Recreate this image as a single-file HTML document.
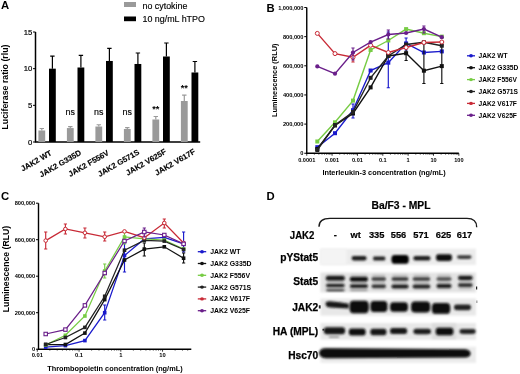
<!DOCTYPE html>
<html><head><meta charset="utf-8"><style>
html,body{margin:0;padding:0;background:#fff;}
svg{display:block;font-family:"Liberation Sans", sans-serif;filter:blur(0.3px);}
</style></head><body>
<svg width="520" height="374" viewBox="0 0 520 374">
<rect width="520" height="374" fill="#fff"/>
<text x="0.9" y="8.9" font-size="11.3" font-weight="700" text-anchor="start" fill="#000" >A</text>
<rect x="124" y="2" width="12" height="5" fill="#9a9a9a"/>
<rect x="124" y="16.5" width="12" height="4.7" fill="#000"/>
<text x="142.5" y="8.6" font-size="8.9" font-weight="400" text-anchor="start" fill="#000" stroke="#000" stroke-width="0.15">no cytokine</text>
<text x="142.5" y="21.8" font-size="8.9" font-weight="400" text-anchor="start" fill="#000" stroke="#000" stroke-width="0.15">10 ng/mL hTPO</text>
<path d="M35.5 32.004999999999995 V142.0 H200.2" stroke="#000" stroke-width="1.5" fill="none"/>
<path d="M33 142.0 H35.5" stroke="#000" stroke-width="1"/>
<text x="32.2" y="144.7" font-size="7.7" font-weight="400" text-anchor="end" fill="#000" stroke="#000" stroke-width="0.2">0</text>
<path d="M33 105.33500000000001 H35.5" stroke="#000" stroke-width="1"/>
<text x="32.2" y="108.03500000000001" font-size="7.7" font-weight="400" text-anchor="end" fill="#000" stroke="#000" stroke-width="0.2">5</text>
<path d="M33 68.67 H35.5" stroke="#000" stroke-width="1"/>
<text x="32.2" y="71.37" font-size="7.7" font-weight="400" text-anchor="end" fill="#000" stroke="#000" stroke-width="0.2">10</text>
<path d="M33 32.004999999999995 H35.5" stroke="#000" stroke-width="1"/>
<text x="32.2" y="34.705" font-size="7.7" font-weight="400" text-anchor="end" fill="#000" stroke="#000" stroke-width="0.2">15</text>
<text transform="translate(7.9,87.0) rotate(-90)" font-size="8.8" font-weight="700" text-anchor="middle">Luciferase ratio (rlu)</text>
<path d="M41.8 130.48719 V128.50728 M39.6 128.50728 H44.0" stroke="#9a9a9a" stroke-width="1.2"/>
<rect x="38.4" y="130.48719" width="6.8" height="11.512810000000002" fill="#9a9a9a"/>
<path d="M52.4 68.67 V56.203900000000004 M50.2 56.203900000000004 H54.6" stroke="#000" stroke-width="1.2"/>
<rect x="49.0" y="68.67" width="6.8" height="73.33" fill="#000"/>
<text transform="translate(52.39999999999999,154.5) rotate(-30)" font-size="7.8" font-weight="700" text-anchor="end" stroke="#000" stroke-width="0.15">JAK2 WT</text>
<path d="M70.30000000000001 128.0673 V126.6007 M68.10000000000001 126.6007 H72.5" stroke="#9a9a9a" stroke-width="1.2"/>
<rect x="66.9" y="128.0673" width="6.8" height="13.932700000000011" fill="#9a9a9a"/>
<path d="M80.9 67.49672 V55.47059999999999 M78.7 55.47059999999999 H83.1" stroke="#000" stroke-width="1.2"/>
<rect x="77.5" y="67.49672" width="6.8" height="74.50328" fill="#000"/>
<text transform="translate(81.89999999999999,154.2) rotate(-30)" font-size="7.8" font-weight="700" text-anchor="end" stroke="#000" stroke-width="0.15">JAK2 G335D</text>
<path d="M98.80000000000001 126.52737 V124.76745 M96.60000000000001 124.76745 H101.0" stroke="#9a9a9a" stroke-width="1.2"/>
<rect x="95.4" y="126.52737" width="6.8" height="15.472629999999995" fill="#9a9a9a"/>
<path d="M109.4 60.970349999999996 V48.43092 M107.2 48.43092 H111.6" stroke="#000" stroke-width="1.2"/>
<rect x="106.0" y="60.970349999999996" width="6.8" height="81.02965" fill="#000"/>
<text transform="translate(109.39999999999999,154.5) rotate(-30)" font-size="7.8" font-weight="700" text-anchor="end" stroke="#000" stroke-width="0.15">JAK2 F556V</text>
<path d="M127.30000000000001 129.02059 V127.70065 M125.10000000000001 127.70065 H129.5" stroke="#9a9a9a" stroke-width="1.2"/>
<rect x="123.9" y="129.02059" width="6.8" height="12.979410000000001" fill="#9a9a9a"/>
<path d="M137.9 63.976879999999994 V52.97738 M135.7 52.97738 H140.1" stroke="#000" stroke-width="1.2"/>
<rect x="134.5" y="63.976879999999994" width="6.8" height="78.02312" fill="#000"/>
<text transform="translate(139.90000000000003,153.7) rotate(-30)" font-size="7.8" font-weight="700" text-anchor="end" stroke="#000" stroke-width="0.15">JAK2 G571S</text>
<path d="M155.8 119.48769 V116.48116 M153.6 116.48116 H158.0" stroke="#9a9a9a" stroke-width="1.2"/>
<rect x="152.4" y="119.48769" width="6.8" height="22.51231" fill="#9a9a9a"/>
<path d="M166.4 56.49722 V43.00449999999999 M164.2 43.00449999999999 H168.6" stroke="#000" stroke-width="1.2"/>
<rect x="163.0" y="56.49722" width="6.8" height="85.50278" fill="#000"/>
<text transform="translate(166.90000000000003,153.2) rotate(-30)" font-size="7.8" font-weight="700" text-anchor="end" stroke="#000" stroke-width="0.15">JAK2 V625F</text>
<path d="M184.3 101.00853000000001 V95.0688 M182.1 95.0688 H186.5" stroke="#9a9a9a" stroke-width="1.2"/>
<rect x="180.9" y="101.00853000000001" width="6.8" height="40.99146999999999" fill="#9a9a9a"/>
<path d="M194.9 72.48316 V61.48366 M192.7 61.48366 H197.1" stroke="#000" stroke-width="1.2"/>
<rect x="191.5" y="72.48316" width="6.8" height="69.51684" fill="#000"/>
<text transform="translate(195.90000000000003,153.2) rotate(-30)" font-size="7.8" font-weight="700" text-anchor="end" stroke="#000" stroke-width="0.15">JAK2 V617F</text>
<text x="70.30000000000001" y="114.5" font-size="8.9" font-weight="400" text-anchor="middle" fill="#000" stroke="#000" stroke-width="0.15">ns</text>
<text x="98.80000000000001" y="114.5" font-size="8.9" font-weight="400" text-anchor="middle" fill="#000" stroke="#000" stroke-width="0.15">ns</text>
<text x="127.30000000000001" y="114.5" font-size="8.9" font-weight="400" text-anchor="middle" fill="#000" stroke="#000" stroke-width="0.15">ns</text>
<text x="155.8" y="111.5" font-size="9.2" font-weight="700" text-anchor="middle" fill="#000" >**</text>
<text x="184.3" y="91.4" font-size="9.2" font-weight="700" text-anchor="middle" fill="#000" >**</text>
<text x="266.4" y="11.6" font-size="11.3" font-weight="700" text-anchor="start" fill="#000" >B</text>
<path d="M306.75 7.5 V153.25 H458.85" stroke="#000" stroke-width="1.4" fill="none"/>
<path d="M304.25 153.25 H306.75" stroke="#000" stroke-width="1"/>
<text x="303.45" y="155.25" font-size="5.7" font-weight="700" text-anchor="end" fill="#000" >0</text>
<path d="M304.25 124.1 H306.75" stroke="#000" stroke-width="1"/>
<text x="303.45" y="126.1" font-size="5.7" font-weight="700" text-anchor="end" fill="#000" >200,000</text>
<path d="M304.25 94.95 H306.75" stroke="#000" stroke-width="1"/>
<text x="303.45" y="96.95" font-size="5.7" font-weight="700" text-anchor="end" fill="#000" >400,000</text>
<path d="M304.25 65.80000000000001 H306.75" stroke="#000" stroke-width="1"/>
<text x="303.45" y="67.80000000000001" font-size="5.7" font-weight="700" text-anchor="end" fill="#000" >600,000</text>
<path d="M304.25 36.650000000000006 H306.75" stroke="#000" stroke-width="1"/>
<text x="303.45" y="38.650000000000006" font-size="5.7" font-weight="700" text-anchor="end" fill="#000" >800,000</text>
<path d="M304.25 7.5 H306.75" stroke="#000" stroke-width="1"/>
<text x="303.45" y="9.5" font-size="5.7" font-weight="700" text-anchor="end" fill="#000" >1,000,000</text>
<path d="M306.75 153.25 V155.75" stroke="#000" stroke-width="0.8"/>
<path d="M314.38 153.25 V154.55" stroke="#000" stroke-width="0.8"/>
<path d="M318.85 153.25 V154.55" stroke="#000" stroke-width="0.8"/>
<path d="M322.01 153.25 V154.55" stroke="#000" stroke-width="0.8"/>
<path d="M324.47 153.25 V154.55" stroke="#000" stroke-width="0.8"/>
<path d="M326.48 153.25 V154.55" stroke="#000" stroke-width="0.8"/>
<path d="M328.17 153.25 V154.55" stroke="#000" stroke-width="0.8"/>
<path d="M329.64 153.25 V154.55" stroke="#000" stroke-width="0.8"/>
<path d="M330.94 153.25 V154.55" stroke="#000" stroke-width="0.8"/>
<path d="M332.10 153.25 V155.75" stroke="#000" stroke-width="0.8"/>
<path d="M339.73 153.25 V154.55" stroke="#000" stroke-width="0.8"/>
<path d="M344.20 153.25 V154.55" stroke="#000" stroke-width="0.8"/>
<path d="M347.36 153.25 V154.55" stroke="#000" stroke-width="0.8"/>
<path d="M349.82 153.25 V154.55" stroke="#000" stroke-width="0.8"/>
<path d="M351.83 153.25 V154.55" stroke="#000" stroke-width="0.8"/>
<path d="M353.52 153.25 V154.55" stroke="#000" stroke-width="0.8"/>
<path d="M354.99 153.25 V154.55" stroke="#000" stroke-width="0.8"/>
<path d="M356.29 153.25 V154.55" stroke="#000" stroke-width="0.8"/>
<path d="M357.45 153.25 V155.75" stroke="#000" stroke-width="0.8"/>
<path d="M365.08 153.25 V154.55" stroke="#000" stroke-width="0.8"/>
<path d="M369.55 153.25 V154.55" stroke="#000" stroke-width="0.8"/>
<path d="M372.71 153.25 V154.55" stroke="#000" stroke-width="0.8"/>
<path d="M375.17 153.25 V154.55" stroke="#000" stroke-width="0.8"/>
<path d="M377.18 153.25 V154.55" stroke="#000" stroke-width="0.8"/>
<path d="M378.87 153.25 V154.55" stroke="#000" stroke-width="0.8"/>
<path d="M380.34 153.25 V154.55" stroke="#000" stroke-width="0.8"/>
<path d="M381.64 153.25 V154.55" stroke="#000" stroke-width="0.8"/>
<path d="M382.80 153.25 V155.75" stroke="#000" stroke-width="0.8"/>
<path d="M390.43 153.25 V154.55" stroke="#000" stroke-width="0.8"/>
<path d="M394.90 153.25 V154.55" stroke="#000" stroke-width="0.8"/>
<path d="M398.06 153.25 V154.55" stroke="#000" stroke-width="0.8"/>
<path d="M400.52 153.25 V154.55" stroke="#000" stroke-width="0.8"/>
<path d="M402.53 153.25 V154.55" stroke="#000" stroke-width="0.8"/>
<path d="M404.22 153.25 V154.55" stroke="#000" stroke-width="0.8"/>
<path d="M405.69 153.25 V154.55" stroke="#000" stroke-width="0.8"/>
<path d="M406.99 153.25 V154.55" stroke="#000" stroke-width="0.8"/>
<path d="M408.15 153.25 V155.75" stroke="#000" stroke-width="0.8"/>
<path d="M415.78 153.25 V154.55" stroke="#000" stroke-width="0.8"/>
<path d="M420.25 153.25 V154.55" stroke="#000" stroke-width="0.8"/>
<path d="M423.41 153.25 V154.55" stroke="#000" stroke-width="0.8"/>
<path d="M425.87 153.25 V154.55" stroke="#000" stroke-width="0.8"/>
<path d="M427.88 153.25 V154.55" stroke="#000" stroke-width="0.8"/>
<path d="M429.57 153.25 V154.55" stroke="#000" stroke-width="0.8"/>
<path d="M431.04 153.25 V154.55" stroke="#000" stroke-width="0.8"/>
<path d="M432.34 153.25 V154.55" stroke="#000" stroke-width="0.8"/>
<path d="M433.50 153.25 V155.75" stroke="#000" stroke-width="0.8"/>
<path d="M441.13 153.25 V154.55" stroke="#000" stroke-width="0.8"/>
<path d="M445.60 153.25 V154.55" stroke="#000" stroke-width="0.8"/>
<path d="M448.76 153.25 V154.55" stroke="#000" stroke-width="0.8"/>
<path d="M451.22 153.25 V154.55" stroke="#000" stroke-width="0.8"/>
<path d="M453.23 153.25 V154.55" stroke="#000" stroke-width="0.8"/>
<path d="M454.92 153.25 V154.55" stroke="#000" stroke-width="0.8"/>
<path d="M456.39 153.25 V154.55" stroke="#000" stroke-width="0.8"/>
<path d="M457.69 153.25 V154.55" stroke="#000" stroke-width="0.8"/>
<path d="M458.85 153.25 V155.75" stroke="#000" stroke-width="0.8"/>
<text x="306.75" y="161.9" font-size="5.6" font-weight="700" text-anchor="middle" fill="#000" >0.0001</text>
<text x="332.1" y="161.9" font-size="5.6" font-weight="700" text-anchor="middle" fill="#000" >0.001</text>
<text x="357.45" y="161.9" font-size="5.6" font-weight="700" text-anchor="middle" fill="#000" >0.01</text>
<text x="382.8" y="161.9" font-size="5.6" font-weight="700" text-anchor="middle" fill="#000" >0.1</text>
<text x="408.15" y="161.9" font-size="5.6" font-weight="700" text-anchor="middle" fill="#000" >1</text>
<text x="433.5" y="161.9" font-size="5.6" font-weight="700" text-anchor="middle" fill="#000" >10</text>
<text x="458.85" y="161.9" font-size="5.6" font-weight="700" text-anchor="middle" fill="#000" >100</text>
<text x="384" y="175.3" font-size="7.35" font-weight="700" text-anchor="middle" fill="#000" >Interleukin-3 concentration (ng/mL)</text>
<text transform="translate(276.5,80.3) rotate(-90)" font-size="7.4" font-weight="700" text-anchor="middle">Luminescence (RLU)</text>
<path d="M388.3 32 V87.7 M386.7 32 H389.90000000000003 M386.7 87.7 H389.90000000000003" stroke="#1a1acc" stroke-width="1.15"/>
<path d="M353 104 V118 M351.4 104 H354.6 M351.4 118 H354.6" stroke="#1a1acc" stroke-width="1.15"/>
<path d="M406.1 38 V50 M404.5 38 H407.70000000000005 M404.5 50 H407.70000000000005" stroke="#1a1acc" stroke-width="1.15"/>
<polyline points="317.3,147.2 335,133.2 353,110.2 370.6,70.5 388.3,62.7 406.1,43.4 423.9,52.5 441.8,51.4" fill="none" stroke="#1a1acc" stroke-width="1.4"/>
<rect x="315.3" y="145.2" width="4.0" height="4.0" fill="#1a1acc"/>
<rect x="333.0" y="131.2" width="4.0" height="4.0" fill="#1a1acc"/>
<rect x="351.0" y="108.2" width="4.0" height="4.0" fill="#1a1acc"/>
<rect x="368.6" y="68.5" width="4.0" height="4.0" fill="#1a1acc"/>
<rect x="386.3" y="60.7" width="4.0" height="4.0" fill="#1a1acc"/>
<rect x="404.1" y="41.4" width="4.0" height="4.0" fill="#1a1acc"/>
<rect x="421.9" y="50.5" width="4.0" height="4.0" fill="#1a1acc"/>
<rect x="439.8" y="49.4" width="4.0" height="4.0" fill="#1a1acc"/>
<path d="M423.9 42 V83.5 M422.29999999999995 42 H425.5 M422.29999999999995 83.5 H425.5" stroke="#111111" stroke-width="1.15"/>
<path d="M441.8 45 V83.5 M440.2 45 H443.40000000000003 M440.2 83.5 H443.40000000000003" stroke="#111111" stroke-width="1.15"/>
<path d="M406.1 46 V60.5 M404.5 46 H407.70000000000005 M404.5 60.5 H407.70000000000005" stroke="#111111" stroke-width="1.15"/>
<polyline points="317.3,149 335,125.5 353,113.5 370.6,87.4 388.3,56 406.1,53.2 423.9,70.7 441.8,66.1" fill="none" stroke="#111111" stroke-width="1.4"/>
<rect x="315.3" y="147.0" width="4.0" height="4.0" fill="#111111"/>
<rect x="333.0" y="123.5" width="4.0" height="4.0" fill="#111111"/>
<rect x="351.0" y="111.5" width="4.0" height="4.0" fill="#111111"/>
<rect x="368.6" y="85.4" width="4.0" height="4.0" fill="#111111"/>
<rect x="386.3" y="54.0" width="4.0" height="4.0" fill="#111111"/>
<rect x="404.1" y="51.2" width="4.0" height="4.0" fill="#111111"/>
<rect x="421.9" y="68.7" width="4.0" height="4.0" fill="#111111"/>
<rect x="439.8" y="64.1" width="4.0" height="4.0" fill="#111111"/>
<polyline points="317.3,141.5 335,122.3 353,100.6 370.6,50 388.3,40.5 406.1,29.1 423.9,33.2 441.8,36.6" fill="none" stroke="#77cc44" stroke-width="1.4"/>
<rect x="315.3" y="139.5" width="4.0" height="4.0" fill="#77cc44"/>
<rect x="333.0" y="120.3" width="4.0" height="4.0" fill="#77cc44"/>
<rect x="351.0" y="98.6" width="4.0" height="4.0" fill="#77cc44"/>
<rect x="368.6" y="48.0" width="4.0" height="4.0" fill="#77cc44"/>
<rect x="386.3" y="38.5" width="4.0" height="4.0" fill="#77cc44"/>
<rect x="404.1" y="27.1" width="4.0" height="4.0" fill="#77cc44"/>
<rect x="421.9" y="31.200000000000003" width="4.0" height="4.0" fill="#77cc44"/>
<rect x="439.8" y="34.6" width="4.0" height="4.0" fill="#77cc44"/>
<polyline points="317.3,150 335,125 353,112 370.6,77.8 388.3,56 406.1,44.5 423.9,42.3 441.8,45.7" fill="none" stroke="#222222" stroke-width="1.4"/>
<rect x="315.3" y="148.0" width="4.0" height="4.0" fill="#222222"/>
<rect x="333.0" y="123.0" width="4.0" height="4.0" fill="#222222"/>
<rect x="351.0" y="110.0" width="4.0" height="4.0" fill="#222222"/>
<rect x="368.6" y="75.8" width="4.0" height="4.0" fill="#222222"/>
<rect x="386.3" y="54.0" width="4.0" height="4.0" fill="#222222"/>
<rect x="404.1" y="42.5" width="4.0" height="4.0" fill="#222222"/>
<rect x="421.9" y="40.3" width="4.0" height="4.0" fill="#222222"/>
<rect x="439.8" y="43.7" width="4.0" height="4.0" fill="#222222"/>
<path d="M353 52 V62 M351.4 52 H354.6 M351.4 62 H354.6" stroke="#c82a36" stroke-width="1.15"/>
<polyline points="317.3,33.4 335,53.6 353,57.3 370.6,45.3 388.3,52.5 406.1,47.5 423.9,42.5 441.8,42" fill="none" stroke="#c82a36" stroke-width="1.4"/>
<circle cx="317.3" cy="33.4" r="2.0" fill="#fff" stroke="#c82a36" stroke-width="1.0"/>
<circle cx="335" cy="53.6" r="2.0" fill="#fff" stroke="#c82a36" stroke-width="1.0"/>
<circle cx="353" cy="57.3" r="2.0" fill="#fff" stroke="#c82a36" stroke-width="1.0"/>
<circle cx="370.6" cy="45.3" r="2.0" fill="#fff" stroke="#c82a36" stroke-width="1.0"/>
<circle cx="388.3" cy="52.5" r="2.0" fill="#fff" stroke="#c82a36" stroke-width="1.0"/>
<circle cx="406.1" cy="47.5" r="2.0" fill="#fff" stroke="#c82a36" stroke-width="1.0"/>
<circle cx="423.9" cy="42.5" r="2.0" fill="#fff" stroke="#c82a36" stroke-width="1.0"/>
<circle cx="441.8" cy="42" r="2.0" fill="#fff" stroke="#c82a36" stroke-width="1.0"/>
<path d="M353 48 V60 M351.4 48 H354.6 M351.4 60 H354.6" stroke="#6a1f8a" stroke-width="1.15"/>
<path d="M388.3 30 V39 M386.7 30 H389.90000000000003 M386.7 39 H389.90000000000003" stroke="#6a1f8a" stroke-width="1.15"/>
<path d="M423.9 26 V33 M422.29999999999995 26 H425.5 M422.29999999999995 33 H425.5" stroke="#6a1f8a" stroke-width="1.15"/>
<polyline points="317.3,66.4 335,73.7 353,52.5 370.6,42.1 388.3,34.5 406.1,33 423.9,29.1 441.8,37.2" fill="none" stroke="#6a1f8a" stroke-width="1.4"/>
<circle cx="317.3" cy="66.4" r="2.1" fill="#6a1f8a"/>
<circle cx="335" cy="73.7" r="2.1" fill="#6a1f8a"/>
<circle cx="353" cy="52.5" r="2.1" fill="#6a1f8a"/>
<circle cx="370.6" cy="42.1" r="2.1" fill="#6a1f8a"/>
<circle cx="388.3" cy="34.5" r="2.1" fill="#6a1f8a"/>
<circle cx="406.1" cy="33" r="2.1" fill="#6a1f8a"/>
<circle cx="423.9" cy="29.1" r="2.1" fill="#6a1f8a"/>
<circle cx="441.8" cy="37.2" r="2.1" fill="#6a1f8a"/>
<path d="M467 55.8 H475" stroke="#1a1acc" stroke-width="1.3"/>
<ellipse cx="471" cy="55.8" rx="1.9" ry="1.7" fill="#1a1acc"/>
<text x="478.5" y="58.199999999999996" font-size="6.65" font-weight="700" text-anchor="start" fill="#000" >JAK2 WT</text>
<path d="M467 67.7 H475" stroke="#111" stroke-width="1.3"/>
<ellipse cx="471" cy="67.7" rx="1.9" ry="1.7" fill="#111"/>
<text x="478.5" y="70.10000000000001" font-size="6.65" font-weight="700" text-anchor="start" fill="#000" >JAK2 G335D</text>
<path d="M467 79.6 H475" stroke="#77cc44" stroke-width="1.3"/>
<ellipse cx="471" cy="79.6" rx="1.9" ry="1.7" fill="#77cc44"/>
<text x="478.5" y="82.0" font-size="6.65" font-weight="700" text-anchor="start" fill="#000" >JAK2 F556V</text>
<path d="M467 91.5 H475" stroke="#222" stroke-width="1.3"/>
<ellipse cx="471" cy="91.5" rx="1.9" ry="1.7" fill="#222"/>
<text x="478.5" y="93.9" font-size="6.65" font-weight="700" text-anchor="start" fill="#000" >JAK2 G571S</text>
<path d="M467 103.4 H475" stroke="#c82a36" stroke-width="1.3"/>
<ellipse cx="471" cy="103.4" rx="1.9" ry="1.7" fill="#c82a36"/>
<text x="478.5" y="105.80000000000001" font-size="6.65" font-weight="700" text-anchor="start" fill="#000" >JAK2 V617F</text>
<path d="M467 115.3 H475" stroke="#6a1f8a" stroke-width="1.3"/>
<ellipse cx="471" cy="115.3" rx="1.9" ry="1.7" fill="#6a1f8a"/>
<text x="478.5" y="117.7" font-size="6.65" font-weight="700" text-anchor="start" fill="#000" >JAK2 V625F</text>
<text x="1.0" y="199.6" font-size="11.3" font-weight="700" text-anchor="start" fill="#000" >C</text>
<path d="M38.5 203.2 V349.2 H191.3" stroke="#000" stroke-width="1.4" fill="none"/>
<path d="M36 349.2 H38.5" stroke="#000" stroke-width="1"/>
<text x="35.2" y="351.2" font-size="5.7" font-weight="700" text-anchor="end" fill="#000" >0</text>
<path d="M36 312.7 H38.5" stroke="#000" stroke-width="1"/>
<text x="35.2" y="314.7" font-size="5.7" font-weight="700" text-anchor="end" fill="#000" >200,000</text>
<path d="M36 276.2 H38.5" stroke="#000" stroke-width="1"/>
<text x="35.2" y="278.2" font-size="5.7" font-weight="700" text-anchor="end" fill="#000" >400,000</text>
<path d="M36 239.7 H38.5" stroke="#000" stroke-width="1"/>
<text x="35.2" y="241.7" font-size="5.7" font-weight="700" text-anchor="end" fill="#000" >600,000</text>
<path d="M36 203.2 H38.5" stroke="#000" stroke-width="1"/>
<text x="35.2" y="205.2" font-size="5.7" font-weight="700" text-anchor="end" fill="#000" >800,000</text>
<path d="M37.30 349.2 V351.7" stroke="#000" stroke-width="0.8"/>
<path d="M49.87 349.2 V350.5" stroke="#000" stroke-width="0.8"/>
<path d="M57.22 349.2 V350.5" stroke="#000" stroke-width="0.8"/>
<path d="M62.44 349.2 V350.5" stroke="#000" stroke-width="0.8"/>
<path d="M66.48 349.2 V350.5" stroke="#000" stroke-width="0.8"/>
<path d="M69.79 349.2 V350.5" stroke="#000" stroke-width="0.8"/>
<path d="M72.58 349.2 V350.5" stroke="#000" stroke-width="0.8"/>
<path d="M75.00 349.2 V350.5" stroke="#000" stroke-width="0.8"/>
<path d="M77.14 349.2 V350.5" stroke="#000" stroke-width="0.8"/>
<path d="M79.05 349.2 V351.7" stroke="#000" stroke-width="0.8"/>
<path d="M91.62 349.2 V350.5" stroke="#000" stroke-width="0.8"/>
<path d="M98.97 349.2 V350.5" stroke="#000" stroke-width="0.8"/>
<path d="M104.19 349.2 V350.5" stroke="#000" stroke-width="0.8"/>
<path d="M108.23 349.2 V350.5" stroke="#000" stroke-width="0.8"/>
<path d="M111.54 349.2 V350.5" stroke="#000" stroke-width="0.8"/>
<path d="M114.33 349.2 V350.5" stroke="#000" stroke-width="0.8"/>
<path d="M116.75 349.2 V350.5" stroke="#000" stroke-width="0.8"/>
<path d="M118.89 349.2 V350.5" stroke="#000" stroke-width="0.8"/>
<path d="M120.80 349.2 V351.7" stroke="#000" stroke-width="0.8"/>
<path d="M133.37 349.2 V350.5" stroke="#000" stroke-width="0.8"/>
<path d="M140.72 349.2 V350.5" stroke="#000" stroke-width="0.8"/>
<path d="M145.94 349.2 V350.5" stroke="#000" stroke-width="0.8"/>
<path d="M149.98 349.2 V350.5" stroke="#000" stroke-width="0.8"/>
<path d="M153.29 349.2 V350.5" stroke="#000" stroke-width="0.8"/>
<path d="M156.08 349.2 V350.5" stroke="#000" stroke-width="0.8"/>
<path d="M158.50 349.2 V350.5" stroke="#000" stroke-width="0.8"/>
<path d="M160.64 349.2 V350.5" stroke="#000" stroke-width="0.8"/>
<path d="M162.55 349.2 V351.7" stroke="#000" stroke-width="0.8"/>
<path d="M175.12 349.2 V350.5" stroke="#000" stroke-width="0.8"/>
<path d="M182.47 349.2 V350.5" stroke="#000" stroke-width="0.8"/>
<path d="M187.69 349.2 V350.5" stroke="#000" stroke-width="0.8"/>
<text x="37.3" y="357.4" font-size="5.8" font-weight="700" text-anchor="middle" fill="#000" >0.01</text>
<text x="79.05" y="357.4" font-size="5.8" font-weight="700" text-anchor="middle" fill="#000" >0.1</text>
<text x="120.8" y="357.4" font-size="5.8" font-weight="700" text-anchor="middle" fill="#000" >1</text>
<text x="162.55" y="357.4" font-size="5.8" font-weight="700" text-anchor="middle" fill="#000" >10</text>
<text x="114.9" y="371.3" font-size="7.35" font-weight="700" text-anchor="middle" fill="#000" >Thrombopoietin concentration (ng/mL)</text>
<text transform="translate(8.6,269) rotate(-90)" font-size="8.7" font-weight="700" text-anchor="middle">Luminescence (RLU)</text>
<path d="M104.7 305 V320 M103.10000000000001 305 H106.3 M103.10000000000001 320 H106.3" stroke="#1a1acc" stroke-width="1.15"/>
<path d="M124.5 243 V272 M122.9 243 H126.1 M122.9 272 H126.1" stroke="#1a1acc" stroke-width="1.15"/>
<path d="M183.6 232 V252 M182.0 232 H185.2 M182.0 252 H185.2" stroke="#1a1acc" stroke-width="1.15"/>
<polyline points="45.7,347.1 65.4,345.6 84.9,340.6 104.7,312.7 124.5,255.5 144.3,238.9 164.3,237.3 183.6,243.9" fill="none" stroke="#1a1acc" stroke-width="1.25"/>
<rect x="43.900000000000006" y="345.3" width="3.6" height="3.6" fill="#1a1acc"/>
<rect x="63.60000000000001" y="343.8" width="3.6" height="3.6" fill="#1a1acc"/>
<rect x="83.10000000000001" y="338.8" width="3.6" height="3.6" fill="#1a1acc"/>
<rect x="102.9" y="310.9" width="3.6" height="3.6" fill="#1a1acc"/>
<rect x="122.7" y="253.7" width="3.6" height="3.6" fill="#1a1acc"/>
<rect x="142.5" y="237.1" width="3.6" height="3.6" fill="#1a1acc"/>
<rect x="162.5" y="235.5" width="3.6" height="3.6" fill="#1a1acc"/>
<rect x="181.79999999999998" y="242.1" width="3.6" height="3.6" fill="#1a1acc"/>
<path d="M144.3 243 V256 M142.70000000000002 243 H145.9 M142.70000000000002 256 H145.9" stroke="#111111" stroke-width="1.15"/>
<path d="M183.6 253 V263 M182.0 253 H185.2 M182.0 263 H185.2" stroke="#111111" stroke-width="1.15"/>
<polyline points="45.7,344.5 65.4,344.5 84.9,333.1 104.7,299.6 124.5,260 144.3,249.1 164.3,246.8 183.6,258.2" fill="none" stroke="#111111" stroke-width="1.25"/>
<rect x="43.900000000000006" y="342.7" width="3.6" height="3.6" fill="#111111"/>
<rect x="63.60000000000001" y="342.7" width="3.6" height="3.6" fill="#111111"/>
<rect x="83.10000000000001" y="331.3" width="3.6" height="3.6" fill="#111111"/>
<rect x="102.9" y="297.8" width="3.6" height="3.6" fill="#111111"/>
<rect x="122.7" y="258.2" width="3.6" height="3.6" fill="#111111"/>
<rect x="142.5" y="247.29999999999998" width="3.6" height="3.6" fill="#111111"/>
<rect x="162.5" y="245.0" width="3.6" height="3.6" fill="#111111"/>
<rect x="181.79999999999998" y="256.4" width="3.6" height="3.6" fill="#111111"/>
<path d="M104.7 264 V278 M103.10000000000001 264 H106.3 M103.10000000000001 278 H106.3" stroke="#77cc44" stroke-width="1.15"/>
<path d="M124.5 232 V244 M122.9 232 H126.1 M122.9 244 H126.1" stroke="#77cc44" stroke-width="1.15"/>
<polyline points="45.7,345 65.4,335.3 84.9,316 104.7,271 124.5,237 144.3,238.9 164.3,240 183.6,249" fill="none" stroke="#77cc44" stroke-width="1.25"/>
<rect x="43.900000000000006" y="343.2" width="3.6" height="3.6" fill="#77cc44"/>
<rect x="63.60000000000001" y="333.5" width="3.6" height="3.6" fill="#77cc44"/>
<rect x="83.10000000000001" y="314.2" width="3.6" height="3.6" fill="#77cc44"/>
<rect x="102.9" y="269.2" width="3.6" height="3.6" fill="#77cc44"/>
<rect x="122.7" y="235.2" width="3.6" height="3.6" fill="#77cc44"/>
<rect x="142.5" y="237.1" width="3.6" height="3.6" fill="#77cc44"/>
<rect x="162.5" y="238.2" width="3.6" height="3.6" fill="#77cc44"/>
<rect x="181.79999999999998" y="247.2" width="3.6" height="3.6" fill="#77cc44"/>
<polyline points="45.7,344.5 65.4,337.5 84.9,327.4 104.7,296.3 124.5,250.2 144.3,240.5 164.3,241.1 183.6,249.5" fill="none" stroke="#222222" stroke-width="1.25"/>
<rect x="43.900000000000006" y="342.7" width="3.6" height="3.6" fill="#222222"/>
<rect x="63.60000000000001" y="335.7" width="3.6" height="3.6" fill="#222222"/>
<rect x="83.10000000000001" y="325.59999999999997" width="3.6" height="3.6" fill="#222222"/>
<rect x="102.9" y="294.5" width="3.6" height="3.6" fill="#222222"/>
<rect x="122.7" y="248.39999999999998" width="3.6" height="3.6" fill="#222222"/>
<rect x="142.5" y="238.7" width="3.6" height="3.6" fill="#222222"/>
<rect x="162.5" y="239.29999999999998" width="3.6" height="3.6" fill="#222222"/>
<rect x="181.79999999999998" y="247.7" width="3.6" height="3.6" fill="#222222"/>
<path d="M45.7 232 V249 M44.1 232 H47.300000000000004 M44.1 249 H47.300000000000004" stroke="#c82a36" stroke-width="1.15"/>
<path d="M65.4 224 V234 M63.800000000000004 224 H67.0 M63.800000000000004 234 H67.0" stroke="#c82a36" stroke-width="1.15"/>
<path d="M84.9 228 V238 M83.30000000000001 228 H86.5 M83.30000000000001 238 H86.5" stroke="#c82a36" stroke-width="1.15"/>
<path d="M104.7 232 V241 M103.10000000000001 232 H106.3 M103.10000000000001 241 H106.3" stroke="#c82a36" stroke-width="1.15"/>
<path d="M164.3 219 V228 M162.70000000000002 219 H165.9 M162.70000000000002 228 H165.9" stroke="#c82a36" stroke-width="1.15"/>
<polyline points="45.7,240.6 65.4,229 84.9,232.8 104.7,236.8 124.5,231.4 144.3,237.7 164.3,223 183.6,243" fill="none" stroke="#c82a36" stroke-width="1.25"/>
<circle cx="45.7" cy="240.6" r="1.8" fill="#fff" stroke="#c82a36" stroke-width="1.0"/>
<circle cx="65.4" cy="229" r="1.8" fill="#fff" stroke="#c82a36" stroke-width="1.0"/>
<circle cx="84.9" cy="232.8" r="1.8" fill="#fff" stroke="#c82a36" stroke-width="1.0"/>
<circle cx="104.7" cy="236.8" r="1.8" fill="#fff" stroke="#c82a36" stroke-width="1.0"/>
<circle cx="124.5" cy="231.4" r="1.8" fill="#fff" stroke="#c82a36" stroke-width="1.0"/>
<circle cx="144.3" cy="237.7" r="1.8" fill="#fff" stroke="#c82a36" stroke-width="1.0"/>
<circle cx="164.3" cy="223" r="1.8" fill="#fff" stroke="#c82a36" stroke-width="1.0"/>
<circle cx="183.6" cy="243" r="1.8" fill="#fff" stroke="#c82a36" stroke-width="1.0"/>
<path d="M144.3 228 V237 M142.70000000000002 228 H145.9 M142.70000000000002 237 H145.9" stroke="#6a1f8a" stroke-width="1.15"/>
<polyline points="45.7,334 65.4,329.6 84.9,305.4 104.7,273 124.5,241 144.3,232 164.3,235 183.6,243.9" fill="none" stroke="#6a1f8a" stroke-width="1.25"/>
<rect x="43.99" y="332.29" width="3.42" height="3.42" fill="#fff" stroke="#6a1f8a" stroke-width="1.1"/>
<rect x="63.690000000000005" y="327.89000000000004" width="3.42" height="3.42" fill="#fff" stroke="#6a1f8a" stroke-width="1.1"/>
<rect x="83.19000000000001" y="303.69" width="3.42" height="3.42" fill="#fff" stroke="#6a1f8a" stroke-width="1.1"/>
<rect x="102.99000000000001" y="271.29" width="3.42" height="3.42" fill="#fff" stroke="#6a1f8a" stroke-width="1.1"/>
<rect x="122.79" y="239.29" width="3.42" height="3.42" fill="#fff" stroke="#6a1f8a" stroke-width="1.1"/>
<rect x="142.59" y="230.29" width="3.42" height="3.42" fill="#fff" stroke="#6a1f8a" stroke-width="1.1"/>
<rect x="162.59" y="233.29" width="3.42" height="3.42" fill="#fff" stroke="#6a1f8a" stroke-width="1.1"/>
<rect x="181.89" y="242.19" width="3.42" height="3.42" fill="#fff" stroke="#6a1f8a" stroke-width="1.1"/>
<path d="M197.8 251.7 H206.2" stroke="#1a1acc" stroke-width="1.3"/>
<ellipse cx="202" cy="251.7" rx="1.9" ry="1.7" fill="#1a1acc"/>
<text x="210.2" y="254.2" font-size="6.9" font-weight="700" text-anchor="start" fill="#000" >JAK2 WT</text>
<path d="M197.8 263.5 H206.2" stroke="#111" stroke-width="1.3"/>
<ellipse cx="202" cy="263.5" rx="1.9" ry="1.7" fill="#111"/>
<text x="210.2" y="266.0" font-size="6.9" font-weight="700" text-anchor="start" fill="#000" >JAK2 G335D</text>
<path d="M197.8 275.3 H206.2" stroke="#77cc44" stroke-width="1.3"/>
<ellipse cx="202" cy="275.3" rx="1.9" ry="1.7" fill="#77cc44"/>
<text x="210.2" y="277.8" font-size="6.9" font-weight="700" text-anchor="start" fill="#000" >JAK2 F556V</text>
<path d="M197.8 287.1 H206.2" stroke="#222" stroke-width="1.3"/>
<ellipse cx="202" cy="287.1" rx="1.9" ry="1.7" fill="#222"/>
<text x="210.2" y="289.6" font-size="6.9" font-weight="700" text-anchor="start" fill="#000" >JAK2 G571S</text>
<path d="M197.8 298.9 H206.2" stroke="#c82a36" stroke-width="1.3"/>
<ellipse cx="202" cy="298.9" rx="1.9" ry="1.7" fill="#c82a36"/>
<text x="210.2" y="301.4" font-size="6.9" font-weight="700" text-anchor="start" fill="#000" >JAK2 V617F</text>
<path d="M197.8 310.7 H206.2" stroke="#6a1f8a" stroke-width="1.3"/>
<ellipse cx="202" cy="310.7" rx="1.9" ry="1.7" fill="#6a1f8a"/>
<text x="210.2" y="313.2" font-size="6.9" font-weight="700" text-anchor="start" fill="#000" >JAK2 V625F</text>
<text x="266.6" y="200.2" font-size="11.3" font-weight="700" text-anchor="start" fill="#000" >D</text>
<text x="401" y="209" font-size="10.3" font-weight="700" text-anchor="middle" fill="#000" stroke="#000" stroke-width="0.2">Ba/F3 - MPL</text>
<path d="M319 226.7 C319 221 323 218.4 330 218.4 H467 C473 218.4 476.7 221 476.7 227.2" stroke="#1a1a1a" stroke-width="1.4" fill="none"/>
<text x="314.4" y="239.2" font-size="10.6" font-weight="700" text-anchor="end" fill="#000" stroke="#000" stroke-width="0.2" textLength="24.6" lengthAdjust="spacingAndGlyphs">JAK2</text>
<text x="335.4" y="237.9" font-size="9.3" font-weight="700" text-anchor="middle" fill="#000" stroke="#000" stroke-width="0.2">-</text>
<text x="355.7" y="237.9" font-size="9.3" font-weight="700" text-anchor="middle" fill="#000" stroke="#000" stroke-width="0.2">wt</text>
<text x="376.7" y="237.9" font-size="9.3" font-weight="700" text-anchor="middle" fill="#000" stroke="#000" stroke-width="0.2">335</text>
<text x="398.5" y="237.9" font-size="9.3" font-weight="700" text-anchor="middle" fill="#000" stroke="#000" stroke-width="0.2">556</text>
<text x="421" y="237.9" font-size="9.3" font-weight="700" text-anchor="middle" fill="#000" stroke="#000" stroke-width="0.2">571</text>
<text x="443.5" y="237.9" font-size="9.3" font-weight="700" text-anchor="middle" fill="#000" stroke="#000" stroke-width="0.2">625</text>
<text x="464.5" y="237.9" font-size="9.3" font-weight="700" text-anchor="middle" fill="#000" stroke="#000" stroke-width="0.2">617</text>
<defs><filter id="bl" x="-30%" y="-80%" width="160%" height="260%"><feGaussianBlur stdDeviation="1.0"/></filter><filter id="bl2" x="-30%" y="-80%" width="160%" height="260%"><feGaussianBlur stdDeviation="0.7"/></filter><filter id="bg" x="-10%" y="-30%" width="120%" height="160%"><feGaussianBlur stdDeviation="0.8"/></filter></defs>
<rect x="320.5" y="248.7" width="155.5" height="16.100000000000023" fill="#ececec" filter="url(#bg)"/>
<text x="318.2" y="260.65" font-size="10.2" font-weight="700" text-anchor="end" fill="#000" stroke="#000" stroke-width="0.25">pYStat5</text>
<rect x="320.5" y="272.6" width="155.5" height="19.799999999999955" fill="#e3e3e3" filter="url(#bg)"/>
<text x="318.2" y="285.4" font-size="10.2" font-weight="700" text-anchor="end" fill="#000" stroke="#000" stroke-width="0.25">Stat5</text>
<rect x="320.5" y="298.6" width="155.5" height="17.0" fill="#e8e8e8" filter="url(#bg)"/>
<text x="318.2" y="311.0" font-size="10.2" font-weight="700" text-anchor="end" fill="#000" stroke="#000" stroke-width="0.25">JAK2</text>
<rect x="320.5" y="323.0" width="155.5" height="16.600000000000023" fill="#e8e8e8" filter="url(#bg)"/>
<text x="318.2" y="335.2" font-size="10.2" font-weight="700" text-anchor="end" fill="#000" stroke="#000" stroke-width="0.25">HA (MPL)</text>
<rect x="320.5" y="346.8" width="155.5" height="16.0" fill="#ebebeb" filter="url(#bg)"/>
<text x="318.2" y="358.7" font-size="10.2" font-weight="700" text-anchor="end" fill="#000" stroke="#000" stroke-width="0.25">Hsc70</text>
<rect x="320.5" y="248.7" width="26" height="16.1" fill="#f4f4f4" filter="url(#bg)"/>
<path d="M351.70 258.30 C351.70 256.32 353.00 256.10 354.96 256.10 H363.24 C365.20 256.10 366.50 256.32 366.50 258.30 C366.50 260.28 365.20 260.50 363.24 260.50 H354.96 C353.00 260.50 351.70 260.28 351.70 258.30 Z" fill="#1a1a1a" opacity="1" filter="url(#bl)"/>
<path d="M373.00 258.60 C373.00 256.80 374.09 256.60 375.73 256.60 H382.67 C384.31 256.60 385.40 256.80 385.40 258.60 C385.40 260.40 384.31 260.60 382.67 260.60 H375.73 C374.09 260.60 373.00 260.40 373.00 258.60 Z" fill="#222" opacity="1" filter="url(#bl)"/>
<path d="M391.40 259.40 C391.40 255.53 392.93 255.10 395.23 255.10 H404.97 C407.27 255.10 408.80 255.53 408.80 259.40 C408.80 263.27 407.27 263.70 404.97 263.70 H395.23 C392.93 263.70 391.40 263.27 391.40 259.40 Z" fill="#050505" opacity="1" filter="url(#bl)"/>
<path d="M413.40 258.20 C413.40 256.13 414.90 255.90 417.14 255.90 H426.66 C428.90 255.90 430.40 256.13 430.40 258.20 C430.40 260.27 428.90 260.50 426.66 260.50 H417.14 C414.90 260.50 413.40 260.27 413.40 258.20 Z" fill="#1e1e1e" opacity="1" filter="url(#bl)"/>
<path d="M436.00 257.60 C436.00 254.54 437.41 254.20 439.52 254.20 H448.48 C450.59 254.20 452.00 254.54 452.00 257.60 C452.00 260.66 450.59 261.00 448.48 261.00 H439.52 C437.41 261.00 436.00 260.66 436.00 257.60 Z" fill="#0a0a0a" opacity="1" filter="url(#bl)"/>
<path d="M457.10 257.10 C457.10 255.48 458.37 255.30 460.27 255.30 H468.33 C470.23 255.30 471.50 255.48 471.50 257.10 C471.50 258.72 470.23 258.90 468.33 258.90 H460.27 C458.37 258.90 457.10 258.72 457.10 257.10 Z" fill="#383838" opacity="1" filter="url(#bl)"/>
<rect x="326.8" y="274.5" width="17.0" height="15" fill="#c4c4c4" filter="url(#bl)"/>
<path d="M325.80 278.20 C325.80 276.13 327.47 275.90 329.98 275.90 H340.62 C343.13 275.90 344.80 276.13 344.80 278.20 C344.80 280.27 343.13 280.50 340.62 280.50 H329.98 C327.47 280.50 325.80 280.27 325.80 278.20 Z" fill="#141414" opacity="1" filter="url(#bl)"/>
<path d="M325.80 285.40 C325.80 284.05 327.47 283.90 329.98 283.90 H340.62 C343.13 283.90 344.80 284.05 344.80 285.40 C344.80 286.75 343.13 286.90 340.62 286.90 H329.98 C327.47 286.90 325.80 286.75 325.80 285.40 Z" fill="#1e1e1e" opacity="1" filter="url(#bl)"/>
<path d="M325.80 290.20 C325.80 289.30 327.47 289.20 329.98 289.20 H340.62 C343.13 289.20 344.80 289.30 344.80 290.20 C344.80 291.10 343.13 291.20 340.62 291.20 H329.98 C327.47 291.20 325.80 291.10 325.80 290.20 Z" fill="#2a2a2a" opacity="1" filter="url(#bl)"/>
<rect x="350.8" y="274.5" width="16.19999999999999" height="15" fill="#c4c4c4" filter="url(#bl)"/>
<path d="M349.80 279.20 C349.80 277.22 351.40 277.00 353.80 277.00 H364.00 C366.40 277.00 368.00 277.22 368.00 279.20 C368.00 281.18 366.40 281.40 364.00 281.40 H353.80 C351.40 281.40 349.80 281.18 349.80 279.20 Z" fill="#0e0e0e" opacity="1" filter="url(#bl)"/>
<path d="M349.80 286.10 C349.80 284.57 351.40 284.40 353.80 284.40 H364.00 C366.40 284.40 368.00 284.57 368.00 286.10 C368.00 287.63 366.40 287.80 364.00 287.80 H353.80 C351.40 287.80 349.80 287.63 349.80 286.10 Z" fill="#161616" opacity="1" filter="url(#bl)"/>
<path d="M349.80 290.20 C349.80 289.57 351.40 289.50 353.80 289.50 H364.00 C366.40 289.50 368.00 289.57 368.00 290.20 C368.00 290.83 366.40 290.90 364.00 290.90 H353.80 C351.40 290.90 349.80 290.83 349.80 290.20 Z" fill="#888" opacity="1" filter="url(#bl)"/>
<rect x="372.5" y="274.5" width="12.5" height="15" fill="#c4c4c4" filter="url(#bl)"/>
<path d="M371.50 279.00 C371.50 277.56 372.78 277.40 374.69 277.40 H382.81 C384.72 277.40 386.00 277.56 386.00 279.00 C386.00 280.44 384.72 280.60 382.81 280.60 H374.69 C372.78 280.60 371.50 280.44 371.50 279.00 Z" fill="#333" opacity="1" filter="url(#bl)"/>
<path d="M371.50 286.20 C371.50 284.85 372.78 284.70 374.69 284.70 H382.81 C384.72 284.70 386.00 284.85 386.00 286.20 C386.00 287.55 384.72 287.70 382.81 287.70 H374.69 C372.78 287.70 371.50 287.55 371.50 286.20 Z" fill="#222" opacity="1" filter="url(#bl)"/>
<rect x="392.5" y="274.5" width="15.0" height="15" fill="#c4c4c4" filter="url(#bl)"/>
<path d="M391.50 279.00 C391.50 277.56 393.00 277.40 395.24 277.40 H404.76 C407.00 277.40 408.50 277.56 408.50 279.00 C408.50 280.44 407.00 280.60 404.76 280.60 H395.24 C393.00 280.60 391.50 280.44 391.50 279.00 Z" fill="#2a2a2a" opacity="1" filter="url(#bl)"/>
<path d="M391.50 286.50 C391.50 284.88 393.00 284.70 395.24 284.70 H404.76 C407.00 284.70 408.50 284.88 408.50 286.50 C408.50 288.12 407.00 288.30 404.76 288.30 H395.24 C393.00 288.30 391.50 288.12 391.50 286.50 Z" fill="#121212" opacity="1" filter="url(#bl)"/>
<rect x="413.6" y="274.5" width="15.699999999999989" height="15" fill="#c4c4c4" filter="url(#bl)"/>
<path d="M412.60 279.00 C412.60 277.56 414.16 277.40 416.49 277.40 H426.41 C428.74 277.40 430.30 277.56 430.30 279.00 C430.30 280.44 428.74 280.60 426.41 280.60 H416.49 C414.16 280.60 412.60 280.44 412.60 279.00 Z" fill="#333" opacity="1" filter="url(#bl)"/>
<path d="M412.60 286.50 C412.60 284.97 414.16 284.80 416.49 284.80 H426.41 C428.74 284.80 430.30 284.97 430.30 286.50 C430.30 288.03 428.74 288.20 426.41 288.20 H416.49 C414.16 288.20 412.60 288.03 412.60 286.50 Z" fill="#1c1c1c" opacity="1" filter="url(#bl)"/>
<rect x="437.5" y="274.5" width="13.0" height="15" fill="#c4c4c4" filter="url(#bl)"/>
<path d="M436.50 279.00 C436.50 277.74 437.82 277.60 439.80 277.60 H448.20 C450.18 277.60 451.50 277.74 451.50 279.00 C451.50 280.26 450.18 280.40 448.20 280.40 H439.80 C437.82 280.40 436.50 280.26 436.50 279.00 Z" fill="#444" opacity="1" filter="url(#bl)"/>
<path d="M436.50 286.00 C436.50 284.47 437.82 284.30 439.80 284.30 H448.20 C450.18 284.30 451.50 284.47 451.50 286.00 C451.50 287.53 450.18 287.70 448.20 287.70 H439.80 C437.82 287.70 436.50 287.53 436.50 286.00 Z" fill="#161616" opacity="1" filter="url(#bl)"/>
<rect x="459.0" y="274.5" width="12.600000000000023" height="15" fill="#c4c4c4" filter="url(#bl)"/>
<path d="M458.00 278.00 C458.00 276.29 459.28 276.10 461.21 276.10 H469.39 C471.32 276.10 472.60 276.29 472.60 278.00 C472.60 279.71 471.32 279.90 469.39 279.90 H461.21 C459.28 279.90 458.00 279.71 458.00 278.00 Z" fill="#161616" opacity="1" filter="url(#bl)"/>
<path d="M458.00 285.20 C458.00 283.76 459.28 283.60 461.21 283.60 H469.39 C471.32 283.60 472.60 283.76 472.60 285.20 C472.60 286.64 471.32 286.80 469.39 286.80 H461.21 C459.28 286.80 458.00 286.64 458.00 285.20 Z" fill="#222" opacity="1" filter="url(#bl)"/>
<rect x="476" y="286.5" width="1.2" height="3" fill="#222"/>
<path d="M325.5 303.5 Q326 301 330 301.2 Q340 302 348.8 303.8 L348.8 308.5 Q338 308 330 307.5 Q325.5 307 325.5 303.5 Z" fill="#151515" filter="url(#bl)"/>
<rect x="318.8" y="305.3" width="1.8" height="3.2" fill="#222"/>
<path d="M349.50 307.00 C349.50 301.38 351.20 300.75 353.75 300.75 H364.55 C367.10 300.75 368.80 301.38 368.80 307.00 C368.80 312.62 367.10 313.25 364.55 313.25 H353.75 C351.20 313.25 349.50 312.62 349.50 307.00 Z" fill="#080808" opacity="1" filter="url(#bl)"/>
<path d="M370.30 306.50 C370.30 301.55 371.81 301.00 374.08 301.00 H383.72 C385.99 301.00 387.50 301.55 387.50 306.50 C387.50 311.45 385.99 312.00 383.72 312.00 H374.08 C371.81 312.00 370.30 311.45 370.30 306.50 Z" fill="#101010" opacity="1" filter="url(#bl)"/>
<path d="M390.00 307.00 C390.00 302.73 391.58 302.25 393.96 302.25 H404.04 C406.42 302.25 408.00 302.73 408.00 307.00 C408.00 311.27 406.42 311.75 404.04 311.75 H393.96 C391.58 311.75 390.00 311.27 390.00 307.00 Z" fill="#0c0c0c" opacity="1" filter="url(#bl)"/>
<path d="M411.00 307.00 C411.00 302.14 412.70 301.60 415.25 301.60 H426.05 C428.60 301.60 430.30 302.14 430.30 307.00 C430.30 311.86 428.60 312.40 426.05 312.40 H415.25 C412.70 312.40 411.00 311.86 411.00 307.00 Z" fill="#080808" opacity="1" filter="url(#bl)"/>
<path d="M431.80 308.40 C431.80 303.54 433.43 303.00 435.87 303.00 H446.23 C448.67 303.00 450.30 303.54 450.30 308.40 C450.30 313.26 448.67 313.80 446.23 313.80 H435.87 C433.43 313.80 431.80 313.26 431.80 308.40 Z" fill="#080808" opacity="1" filter="url(#bl)"/>
<path d="M454.00 307.30 C454.00 304.69 455.50 304.40 457.74 304.40 H467.26 C469.50 304.40 471.00 304.69 471.00 307.30 C471.00 309.91 469.50 310.20 467.26 310.20 H457.74 C455.50 310.20 454.00 309.91 454.00 307.30 Z" fill="#222" opacity="1" filter="url(#bl)"/>
<rect x="476.5" y="300.5" width="0.8" height="2.5" fill="#666"/>
<rect x="432" y="323.5" width="24" height="15.5" fill="#dcdcdc" filter="url(#bg)"/>
<path d="M323.80 330.80 C323.80 327.65 325.60 327.30 328.30 327.30 H340.70 C343.40 327.30 345.20 327.65 345.20 330.80 C345.20 333.95 343.40 334.30 340.70 334.30 H328.30 C325.60 334.30 323.80 333.95 323.80 330.80 Z" fill="#161616" opacity="1" filter="url(#bl)"/>
<path d="M348.80 332.00 C348.80 328.76 350.29 328.40 352.52 328.40 H361.98 C364.21 328.40 365.70 328.76 365.70 332.00 C365.70 335.24 364.21 335.60 361.98 335.60 H352.52 C350.29 335.60 348.80 335.24 348.80 332.00 Z" fill="#111" opacity="1" filter="url(#bl)"/>
<path d="M370.30 332.00 C370.30 329.03 371.73 328.70 373.86 328.70 H382.94 C385.07 328.70 386.50 329.03 386.50 332.00 C386.50 334.97 385.07 335.30 382.94 335.30 H373.86 C371.73 335.30 370.30 334.97 370.30 332.00 Z" fill="#161616" opacity="1" filter="url(#bl)"/>
<path d="M390.00 331.00 C390.00 328.21 391.51 327.90 393.78 327.90 H403.42 C405.69 327.90 407.20 328.21 407.20 331.00 C407.20 333.79 405.69 334.10 403.42 334.10 H393.78 C391.51 334.10 390.00 333.79 390.00 331.00 Z" fill="#161616" opacity="1" filter="url(#bl)"/>
<path d="M413.40 331.50 C413.40 329.07 414.95 328.80 417.27 328.80 H427.13 C429.45 328.80 431.00 329.07 431.00 331.50 C431.00 333.93 429.45 334.20 427.13 334.20 H417.27 C414.95 334.20 413.40 333.93 413.40 331.50 Z" fill="#1a1a1a" opacity="1" filter="url(#bl)"/>
<path d="M435.70 331.50 C435.70 328.08 437.26 327.70 439.59 327.70 H449.51 C451.84 327.70 453.40 328.08 453.40 331.50 C453.40 334.92 451.84 335.30 449.51 335.30 H439.59 C437.26 335.30 435.70 334.92 435.70 331.50 Z" fill="#080808" opacity="1" filter="url(#bl)"/>
<path d="M459.50 331.50 C459.50 329.34 460.93 329.10 463.06 329.10 H472.14 C474.27 329.10 475.70 329.34 475.70 331.50 C475.70 333.66 474.27 333.90 472.14 333.90 H463.06 C460.93 333.90 459.50 333.66 459.50 331.50 Z" fill="#222" opacity="1" filter="url(#bl)"/>
<rect x="322.5" y="328.8" width="1.8" height="1.8" fill="#333" filter="url(#bl2)"/>
<rect x="329" y="336" width="10" height="1.6" fill="#888" filter="url(#bl)"/>
<path d="M319 353 Q319.5 348.2 326 348.2 L465 349.3 Q470.6 350 470.6 353.5 Q470.6 357.2 465 357.6 L326 358.3 Q319.5 358 319 353 Z" fill="#080808" filter="url(#bl)"/>
</svg></body></html>
